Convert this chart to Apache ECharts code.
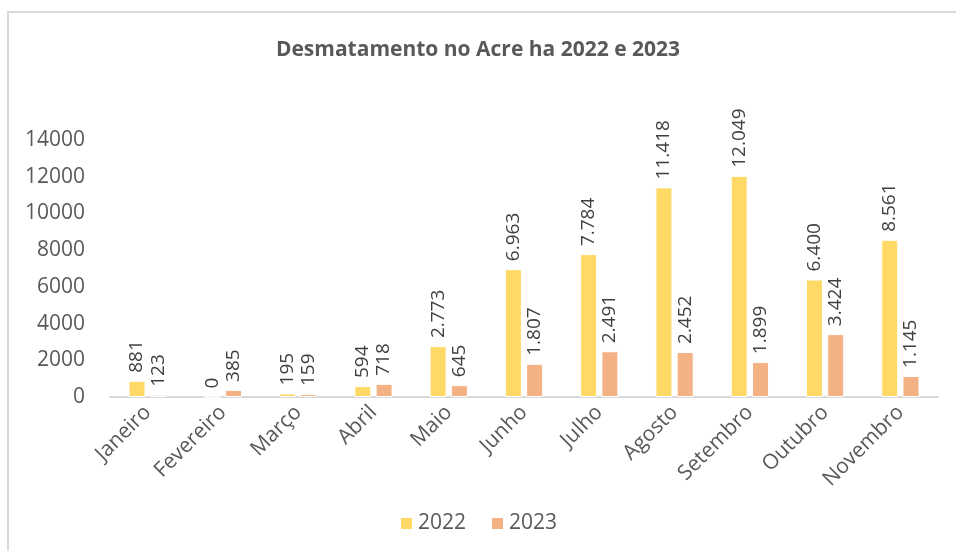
<!DOCTYPE html>
<html>
<head>
<meta charset="utf-8">
<script src="https://cdn.jsdelivr.net/npm/echarts@6/dist/echarts.min.js"></script>
<style>
  html, body { margin: 0; padding: 0; background: #fff; overflow: hidden; }
  #frame { position: absolute; left: 7px; top: 11px; width: 1000px; height: 600px; border: 2px solid #d9d9d9; box-sizing: border-box; }
  #chart { position: absolute; left: 0; top: 0; width: 956px; height: 551px; }
</style>
</head>
<body>
<div id="frame"></div>
<div id="chart"></div>
<script>
var meses = ['Janeiro', 'Fevereiro', 'Março', 'Abril', 'Maio', 'Junho', 'Julho', 'Agosto', 'Setembro', 'Outubro', 'Novembro'];
var valores2022 = [881, 0, 195, 594, 2773, 6963, 7784, 11418, 12049, 6400, 8561];
var valores2023 = [123, 385, 159, 718, 645, 1807, 2491, 2452, 1899, 3424, 1145];
var yTicks = [0, 2000, 4000, 6000, 8000, 10000, 12000, 14000];

var fonte = '"Open Sans", "Liberation Sans", sans-serif';

function formatPt(v) {
    // separador de milhar com ponto
    return String(v).replace(/\B(?=(\d{3})+(?!\d))/g, '.');
}

function rotLabel() {
    return {
        show: true,
        position: 'top',
        rotate: 90,
        align: 'left',
        verticalAlign: 'middle',
        distance: 8,
        color: '#404040',
        fontSize: 19,
        fontFamily: fonte,
        formatter: function (p) { return formatPt(p.value); }
    };
}

var chart = echarts.init(document.getElementById('chart'));
chart.setOption({
    animation: false,
    title: {
        text: 'Desmatamento no Acre ha 2022 e 2023',
        left: 'center',
        top: 35,
        textStyle: { color: '#595959', fontSize: 21, fontWeight: 'bold', fontFamily: fonte }
    },
    legend: {
        bottom: 12,
        left: 'center',
        itemWidth: 13,
        itemHeight: 13,
        itemGap: 24,
        icon: 'rect',
        textStyle: { color: '#595959', fontSize: 21, fontFamily: fonte },
        data: ['2022', '2023']
    },
    grid: { left: 110, right: 18, top: 140, bottom: 154, containLabel: false },
    xAxis: {
        type: 'category',
        data: meses,
        axisLine: { lineStyle: { color: '#d9d9d9', width: 2 } },
        axisTick: { show: false },
        axisLabel: { rotate: 45, color: '#595959', fontSize: 21, fontFamily: fonte, interval: 0, margin: 12 }
    },
    yAxis: {
        type: 'value',
        min: yTicks[0],
        max: yTicks[yTicks.length - 1],
        interval: 2000,
        splitLine: { show: false },
        axisLine: { show: false },
        axisTick: { show: false },
        axisLabel: {
            color: '#595959', fontSize: 21, fontFamily: fonte, margin: 25,
            formatter: function (v) { return String(v); }
        }
    },
    series: [{
        name: '2022',
        type: 'bar',
        data: valores2022,
        barWidth: 17,
        barGap: '25%',
        itemStyle: { color: '#FFD966', borderColor: '#fff', borderWidth: 1 },
        label: rotLabel()
    }, {
        name: '2023',
        type: 'bar',
        data: valores2023,
        barWidth: 17,
        itemStyle: { color: '#F4B183', borderColor: '#fff', borderWidth: 1 },
        label: rotLabel()
    }]
});
</script>
</body>
</html>
